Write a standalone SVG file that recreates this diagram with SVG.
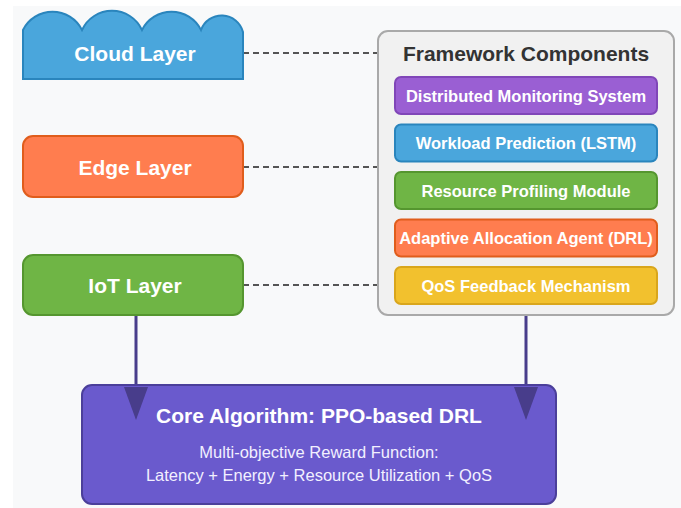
<svg xmlns="http://www.w3.org/2000/svg" width="681" height="508" viewBox="0 0 681 508">
  <defs>
    <style>
      .layer-label { font-family: "Liberation Sans", Arial, sans-serif; font-weight: bold; font-size: 21px; fill: #ffffff; text-anchor: middle; dominant-baseline: central; }
      .comp { stroke-width: 2; }
      .comp-label { font-family: "Liberation Sans", Arial, sans-serif; font-weight: bold; font-size: 16.5px; fill: #ffffff; text-anchor: middle; dominant-baseline: central; }
      .title { font-family: "Liberation Sans", Arial, sans-serif; font-weight: bold; font-size: 21px; fill: #333333; text-anchor: middle; dominant-baseline: central; }
      .sub { font-family: "Liberation Sans", Arial, sans-serif; font-size: 16.5px; fill: #f2f0ff; text-anchor: middle; dominant-baseline: central; }
      .dash { stroke: #555555; stroke-width: 2; stroke-dasharray: 6 4; fill: none; }
      .flow { stroke: #483d8b; stroke-width: 3; fill: none; }
      .head { fill: #483d8b; }
    </style>
  </defs>

  <!-- canvas -->
  <rect x="0" y="0" width="681" height="508" fill="#ffffff"/>
  <rect x="13" y="6" width="668" height="502" fill="#f8f9fa"/>

  <!-- connectors -->
  <g id="connectors">
    <line class="dash" x1="243" y1="53" x2="378" y2="53"/>
    <line class="dash" x1="243" y1="167" x2="378" y2="167"/>
    <line class="dash" x1="243" y1="285" x2="378" y2="285"/>
    <line class="flow" x1="136" y1="315" x2="136" y2="387"/>
    <line class="flow" x1="526" y1="315" x2="526" y2="387"/>
  </g>

  <!-- layers -->
  <g id="cloud-layer">
    <path d="M23,79 L23,30 A33,33 0 0 1 82,30 A33,33 0 0 1 142,30 A33,33 0 0 1 201,30 A22,22 0 0 1 243,32 L243,79 Z" fill="#4aa6dc" stroke="#2a85bd" stroke-width="2"/>
    <text class="layer-label" x="135" y="53">Cloud Layer</text>
  </g>
  <g id="edge-layer">
    <rect x="23" y="136" width="220" height="61" rx="10" fill="#ff7d4f" stroke="#e05d1c" stroke-width="2"/>
    <text class="layer-label" x="135" y="167">Edge Layer</text>
  </g>
  <g id="iot-layer">
    <rect x="23" y="255" width="220" height="60" rx="10" fill="#6fb545" stroke="#55962f" stroke-width="2"/>
    <text class="layer-label" x="135" y="285">IoT Layer</text>
  </g>

  <!-- framework components panel -->
  <g id="framework">
    <rect x="378" y="31" width="296" height="284" rx="10" fill="#f1f1f1" stroke="#a9a9a9" stroke-width="2"/>
    <text class="title" x="526" y="53">Framework Components</text>
  </g>
  <g id="monitoring">
    <rect class="comp" x="395" y="77" width="262" height="37" rx="6" fill="#9a5fd3" stroke="#8046b8"/>
    <text class="comp-label" x="526" y="95.5">Distributed Monitoring System</text>
  </g>
  <g id="prediction">
    <rect class="comp" x="395" y="124.5" width="262" height="37" rx="6" fill="#4aa6dc" stroke="#2a85bd"/>
    <text class="comp-label" x="526" y="143">Workload Prediction (LSTM)</text>
  </g>
  <g id="profiling">
    <rect class="comp" x="395" y="172" width="262" height="37" rx="6" fill="#6fb545" stroke="#55962f"/>
    <text class="comp-label" x="526" y="190.5">Resource Profiling Module</text>
  </g>
  <g id="allocation">
    <rect class="comp" x="395" y="219.5" width="262" height="37" rx="6" fill="#ff7d4f" stroke="#e05d1c"/>
    <text class="comp-label" x="526" y="238">Adaptive Allocation Agent (DRL)</text>
  </g>
  <g id="feedback">
    <rect class="comp" x="395" y="267" width="262" height="37" rx="6" fill="#f2c12e" stroke="#d9a61c"/>
    <text class="comp-label" x="526" y="285.5">QoS Feedback Mechanism</text>
  </g>

  <!-- core algorithm -->
  <g id="core">
    <rect x="82" y="385" width="474" height="119" rx="10" fill="#6a5acd" stroke="#4b3f9a" stroke-width="2"/>
    <text class="layer-label" x="319" y="415">Core Algorithm: PPO-based DRL</text>
    <text class="sub" x="319" y="452">Multi-objective Reward Function:</text>
    <text class="sub" x="319" y="475">Latency + Energy + Resource Utilization + QoS</text>
  </g>

  <!-- arrowheads drawn over the core box -->
  <g id="arrowheads">
    <path class="head" d="M124,387 L148,387 L136,420 Z"/>
    <path class="head" d="M514,387 L538,387 L526,420 Z"/>
  </g>
</svg>
